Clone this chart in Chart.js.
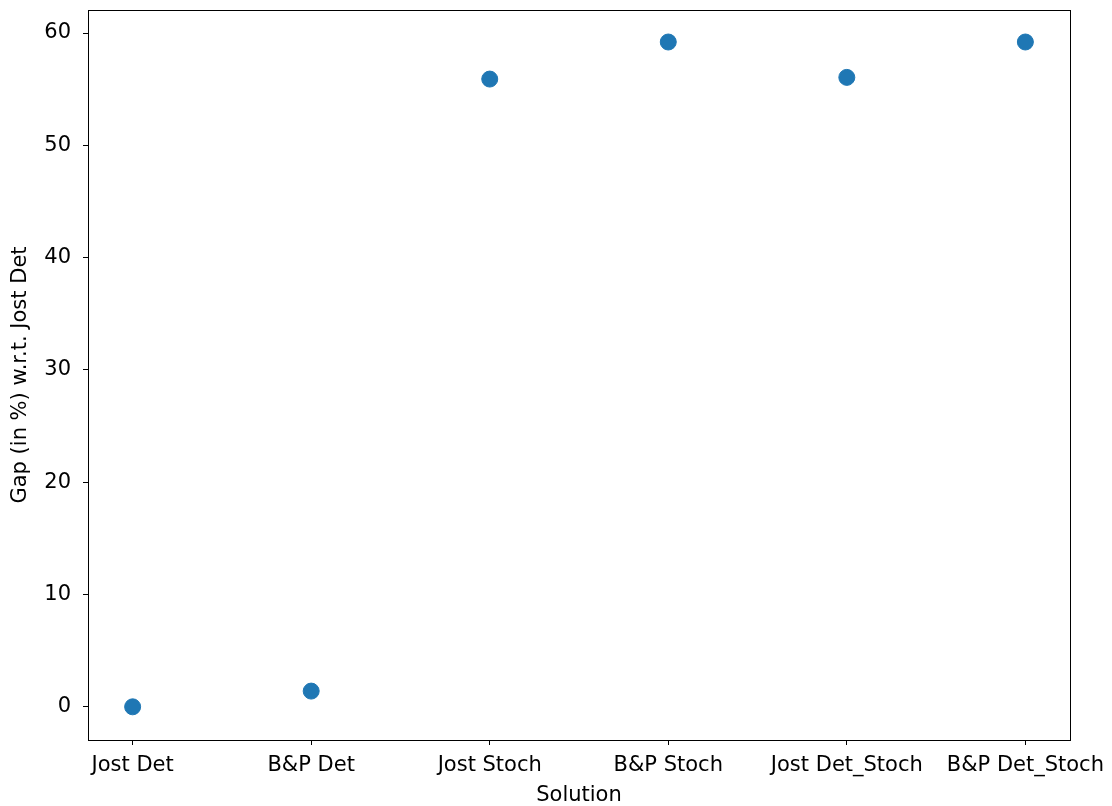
<!DOCTYPE html>
<html>
<head>
<meta charset="utf-8">
<script src="https://cdn.jsdelivr.net/npm/chart.js@4"></script>
<style>
  html, body { margin: 0; padding: 0; background: #fff; }
  #wrap { width: 1112px; height: 806px; }
</style>
</head>
<body>
<div id="wrap"><canvas id="gapChart"></canvas></div>
<script>
const solutions = ['Jost Det', 'B&P Det', 'Jost Stoch', 'B&P Stoch', 'Jost Det_Stoch', 'B&P Det_Stoch'];
const gapValues = [0, 1.4, 55.9, 59.2, 56.05, 59.2];
const yTicks = [0, 10, 20, 30, 40, 50, 60];

Chart.defaults.font.family = 'DejaVu Sans';
Chart.defaults.font.size = 21;
Chart.defaults.color = '#000';

// box round the plot area, like matplotlib spines
const frame = {
    id: 'frame',
    afterDraw(chart) {
        const a = chart.chartArea;
        const c = chart.ctx;
        c.save();
        c.strokeStyle = '#000';
        c.lineWidth = 1;
        c.strokeRect(a.left + 0.5, a.top + 0.5, a.right - a.left, a.bottom - a.top);
        c.restore();
    }
};

const ctx = document.getElementById('gapChart').getContext('2d');
new Chart(ctx, {
    type: 'scatter',
    data: {
        datasets: [{
            data: gapValues.map((v, i) => ({ x: i, y: v })),
            backgroundColor: '#1f77b4',
            borderColor: '#1f77b4',
            pointRadius: 8,
            pointHoverRadius: 8
        }]
    },
    options: {
        responsive: true,
        maintainAspectRatio: false,
        animation: false,
        layout: { padding: { top: 10, right: 42, left: 0, bottom: 0 } },
        plugins: { legend: { display: false }, tooltip: { enabled: false } },
        scales: {
            x: {
                type: 'linear',
                min: -0.25,
                max: 5.25,
                afterBuildTicks: s => { s.ticks = solutions.map((_, i) => ({ value: i })); },
                afterFit: s => { s.height = 66; s.paddingLeft = 0; s.paddingRight = 0; },
                ticks: {
                    callback: v => solutions[v],
                    padding: 8,
                    maxRotation: 0,
                    autoSkip: false
                },
                grid: { drawOnChartArea: false, drawTicks: true, tickLength: 5, color: '#000' },
                border: { display: true, color: '#000' },
                title: { display: true, text: 'Solution', font: { lineHeight: 1 }, padding: { top: 0, bottom: 0 } }
            },
            y: {
                min: -2.955,
                max: 62.05,
                afterBuildTicks: s => { s.ticks = yTicks.map(v => ({ value: v })); },
                afterFit: s => { s.width = 88; s.paddingTop = 0; s.paddingBottom = 0; },
                ticks: { padding: 12 },
                grid: { drawOnChartArea: false, drawTicks: true, tickLength: 5, color: '#000' },
                border: { display: true, color: '#000' },
                title: { display: true, text: 'Gap (in %) w.r.t. Jost Det', font: { lineHeight: 1 }, padding: { top: 10, bottom: 0 } }
            }
        }
    },
    plugins: [frame]
});
</script>
</body>
</html>
